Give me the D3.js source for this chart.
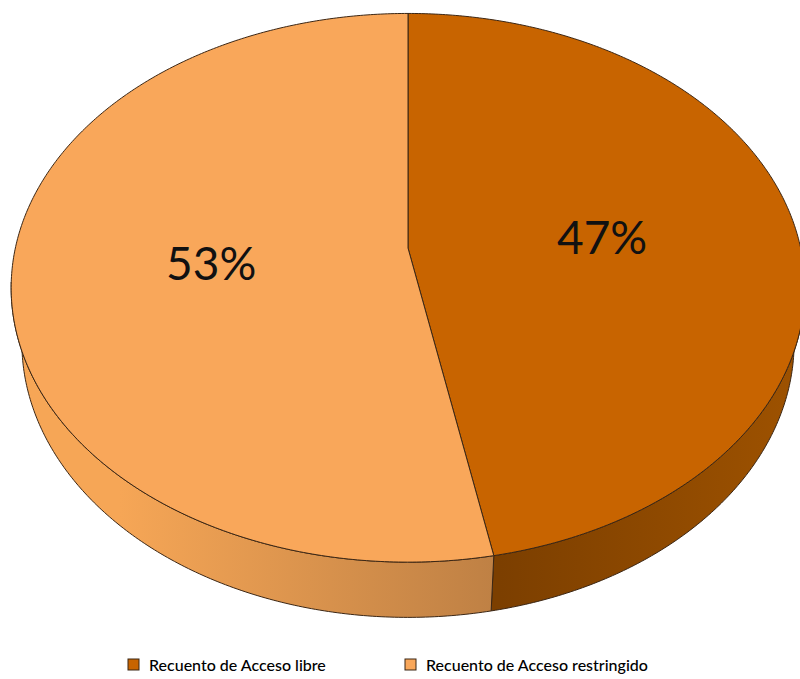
<!DOCTYPE html>
<html>
<head>
<meta charset="utf-8">
<script src="https://cdn.jsdelivr.net/npm/d3@7"></script>
<style>
  html, body { margin: 0; padding: 0; background: #ffffff; }
  svg { display: block; }
</style>
</head>
<body>
<svg id="chart" width="800" height="679"></svg>
<script>
// ---- data ----
const categories = ["Recuento de Acceso libre", "Recuento de Acceso restringido"];
const values = [47, 53];
const labels = ["47%", "53%"];

// ---- styles ----
const topColors = ["#C86400", "#F9A75A"];
const sideStops = [["#7C3F00", "#9E5200"], ["#F6A656", "#BE8044"]];
const strokeColor = "#3b2614";

const svg = d3.select("#chart");

// perspective projection of a flat disk (3D pie)
const cx = 408, cy = 248, F = 1975, Dist = 5.03;
const sA = 0.684, cA = Math.sqrt(1 - sA * sA);
const thick = 0.2;
function proj(theta, r, h) {
  const u = r * Math.sin(theta), v = r * Math.cos(theta);
  const w = Dist + v * cA - h * sA;
  const up = v * sA + h * cA;
  return [cx + F * u / w, cy - F * up / w];
}

const pie = d3.pie().sort(null).value(d => d)(values);

function arcPoints(a0, a1, h) {
  const n = Math.max(8, Math.ceil((a1 - a0) / 0.01));
  return d3.range(n + 1).map(i => proj(a0 + (a1 - a0) * i / n, 1, h));
}
const line = d3.line();

const defs = svg.append("defs");
pie.forEach((p, i) => {
  const g = defs.append("linearGradient")
    .attr("id", "side" + i)
    .attr("gradientUnits", "userSpaceOnUse");
  if (i === 0) { g.attr("x1", 500).attr("x2", 800).attr("y1", 0).attr("y2", 0); }
  else { g.attr("x1", 120).attr("x2", 500).attr("y1", 0).attr("y2", 0); }
  g.append("stop").attr("offset", "0%").attr("stop-color", sideStops[i][0]);
  g.append("stop").attr("offset", "100%").attr("stop-color", sideStops[i][1]);
});

// outer walls (front facing portion)
const frontMin = Math.PI / 2 + Math.asin(cA / Dist) - 0.02;
const frontMax = 3 * Math.PI / 2 - Math.asin(cA / Dist) + 0.02;
pie.forEach((p, i) => {
  const a0 = Math.max(p.startAngle, frontMin);
  const a1 = Math.min(p.endAngle, frontMax);
  if (a1 <= a0) return;
  const topPts = arcPoints(a0, a1, 0);
  const botPts = arcPoints(a0, a1, -thick).reverse();
  svg.append("path")
    .attr("d", line(topPts.concat(botPts)) + "Z")
    .attr("fill", "url(#side" + i + ")")
    .attr("stroke", strokeColor)
    .attr("stroke-width", 1)
    .attr("stroke-linejoin", "round");
});

// top faces
pie.forEach((p, i) => {
  const pts = [proj(0, 0, 0)].concat(arcPoints(p.startAngle, p.endAngle, 0));
  svg.append("path")
    .attr("d", line(pts) + "Z")
    .attr("fill", topColors[i])
    .attr("stroke", strokeColor)
    .attr("stroke-width", 1)
    .attr("stroke-linejoin", "round");
});

// percentage labels
pie.forEach((p, i) => {
  const mid = (p.startAngle + p.endAngle) / 2;
  const pt = proj(mid, 0.5, 0);
  svg.append("text")
    .attr("x", pt[0])
    .attr("y", pt[1] + 19)
    .attr("text-anchor", "middle")
    .attr("font-family", "Lato, 'Open Sans', sans-serif")
    .attr("font-size", 46)
    .attr("fill", "#111")
    .text(labels[i]);
});

// legend
const legendX = [128, 405];
const legend = svg.append("g");
categories.forEach((c, i) => {
  legend.append("rect")
    .attr("x", legendX[i]).attr("y", 659)
    .attr("width", 11).attr("height", 11)
    .attr("fill", topColors[i])
    .attr("stroke", strokeColor).attr("stroke-width", 1);
  legend.append("text")
    .attr("x", legendX[i] + 21).attr("y", 671)
    .attr("font-family", "Lato, 'Open Sans', sans-serif")
    .attr("font-size", 16)
    .attr("font-weight", 500)
    .attr("fill", "#000")
    .text(c);
});
</script>
</body>
</html>
